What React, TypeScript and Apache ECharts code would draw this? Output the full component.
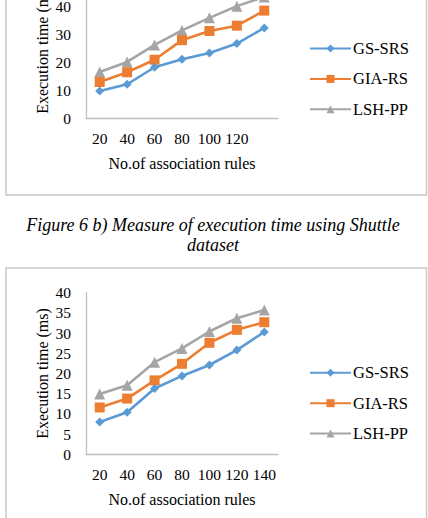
import React, { useEffect, useRef } from "react";
import * as echarts from "echarts";

const categories = ["20", "40", "60", "80", "100", "120", "140"];
const topTickLabels = ["20", "40", "60", "80", "100", "120", ""];
const bottomTickLabels = ["20", "40", "60", "80", "100", "120", "140"];
const seriesNames = ["GS-SRS", "GIA-RS", "LSH-PP"];

// Top chart (Shuttle dataset)
const topGS = [9.8, 12.2, 18.3, 21.2, 23.4, 26.8, 32.4];
const topGIA = [13.0, 16.5, 21.0, 28.0, 31.3, 33.2, 38.6];
const topLSH = [16.6, 20.2, 26.3, 31.5, 36.0, 40.2, 43.5];

// Bottom chart
const botGS = [8.0, 10.4, 16.3, 19.4, 22.1, 25.8, 30.3];
const botGIA = [11.6, 13.8, 18.3, 22.4, 27.6, 30.8, 32.7];
const botLSH = [14.9, 17.1, 22.8, 26.2, 30.4, 33.7, 35.7];

const captionLine1 = "Figure 6 b) Measure of execution time using Shuttle";
const captionLine2 = "dataset";
const xTitle = "No.of association rules";
const yTitle = "Execution time (ms)";

const FONT = "'Liberation Serif', 'Times New Roman', serif";
const COLORS = ["#5B9BD5", "#ED7D31", "#A5A5A5"];
const SYMBOLS = ["diamond", "rect", "triangle"];
const SYMBOL_SIZES = [9, 10, 11];
const AXIS_COLOR = "#BFBFBF";
const OFFSET = 40; // chart canvas starts 40px above the visible page

export default function App() {
  const ref = useRef<HTMLDivElement>(null);
  useEffect(() => {
    if (!ref.current) return;
    const chart = echarts.init(ref.current, undefined, { renderer: "svg" });

    const mkGrid = (top: number, height: number) => ({
      left: 86,
      top: top + OFFSET,
      width: 192,
      height,
      containLabel: false,
    });

    const mkX = (gridIndex: number, labels: string[]) => ({
      type: "category",
      gridIndex,
      data: categories,
      boundaryGap: true,
      name: xTitle,
      nameLocation: "middle",
      nameGap: 37,
      nameTextStyle: { fontFamily: FONT, fontSize: 16, color: "#000" },
      axisLine: { lineStyle: { color: AXIS_COLOR, width: 1.3 } },
      axisTick: { show: false },
      axisLabel: {
        fontFamily: FONT,
        fontSize: 15.5,
        color: "#000",
        margin: 12,
        interval: 0,
        formatter: (_v: string, i: number) => labels[i],
      },
      splitLine: { show: false },
    });

    const mkY = (gridIndex: number, max: number, interval: number) => ({
      type: "value",
      gridIndex,
      min: 0,
      max,
      interval,
      name: yTitle,
      nameLocation: "middle",
      nameGap: 36,
      nameTextStyle: { fontFamily: FONT, fontSize: 16, color: "#000" },
      axisLine: { show: true, lineStyle: { color: AXIS_COLOR, width: 1.3 } },
      axisTick: { show: false },
      axisLabel: { fontFamily: FONT, fontSize: 15.5, color: "#000", margin: 15 },
      splitLine: { show: false },
    });

    const mkSeries = (idx: number, data: number[], axisIndex: number) => ({
      name: seriesNames[idx],
      type: "line",
      xAxisIndex: axisIndex,
      yAxisIndex: axisIndex,
      data,
      symbol: SYMBOLS[idx],
      symbolSize: SYMBOL_SIZES[idx],
      lineStyle: { color: COLORS[idx], width: 2.6 },
      itemStyle: { color: COLORS[idx] },
      z: 2 + (2 - idx),
    });

    const mkLegend = (top: number) => ({
      orient: "vertical",
      left: 309,
      top: top + OFFSET,
      padding: 0,
      itemWidth: 41,
      itemHeight: 10,
      itemGap: 13.4,
      data: seriesNames,
      textStyle: { fontFamily: FONT, fontSize: 16.5, color: "#000", padding: [0, 0, 0, -3] },
      selectedMode: false,
    });

    chart.setOption({
      animation: false,
      backgroundColor: "#ffffff",
      grid: [mkGrid(-21.2, 139.5), mkGrid(292.7, 161.6)],
      xAxis: [mkX(0, topTickLabels), mkX(1, bottomTickLabels)],
      yAxis: [mkY(0, 50, 10), mkY(1, 40, 5)],
      legend: [mkLegend(40), mkLegend(364.3)],
      series: [
        mkSeries(0, topGS, 0),
        mkSeries(1, topGIA, 0),
        mkSeries(2, topLSH, 0),
        mkSeries(0, botGS, 1),
        mkSeries(1, botGIA, 1),
        mkSeries(2, botLSH, 1),
      ],
      graphic: [
        {
          type: "rect",
          shape: { x: 6, y: -20 + OFFSET, width: 420.5, height: 215 },
          style: { fill: "none", stroke: "#C8C8C8", lineWidth: 1.5 },
          silent: true,
        },
        {
          type: "rect",
          shape: { x: 6, y: 268 + OFFSET, width: 420.5, height: 300 },
          style: { fill: "none", stroke: "#C8C8C8", lineWidth: 1.5 },
          silent: true,
        },
        {
          type: "text",
          x: 213,
          y: 225 + OFFSET,
          style: {
            text: captionLine1,
            font: `italic 18px ${FONT}`,
            fill: "#000",
            textAlign: "center",
            textVerticalAlign: "middle",
          },
        },
        {
          type: "text",
          x: 213,
          y: 245 + OFFSET,
          style: {
            text: captionLine2,
            font: `italic 18px ${FONT}`,
            fill: "#000",
            textAlign: "center",
            textVerticalAlign: "middle",
          },
        },
      ],
    });
    return () => chart.dispose();
  }, []);

  return (
    <div
      style={{
        position: "absolute",
        left: 0,
        top: 0,
        width: 428,
        height: 518,
        overflow: "hidden",
        background: "#fff",
      }}
    >
      <div
        ref={ref}
        style={{ position: "absolute", left: 0, top: -OFFSET, width: 428, height: 518 + OFFSET }}
      />
    </div>
  );
}
